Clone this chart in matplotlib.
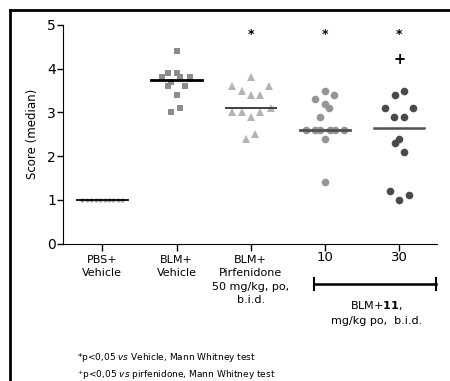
import matplotlib
matplotlib.use("Agg")
import matplotlib.pyplot as plt
from matplotlib.lines import Line2D

# data
group_pos = [1, 2, 3, 4, 5]
tick_labels = ["PBS+\nVehicle", "BLM+\nVehicle", "BLM+\nPirfenidone\n50 mg/kg, po,\nb.i.d.", "10", "30"]

pbs_y = [1.0, 1.0, 1.0, 1.0, 1.0, 1.0, 1.0, 1.0, 1.0, 1.0]
pbs_dx = [-0.27, -0.21, -0.15, -0.09, -0.03, 0.03, 0.09, 0.15, 0.21, 0.27]

blm_y = [4.4, 3.9, 3.9, 3.8, 3.8, 3.8, 3.7, 3.6, 3.6, 3.4, 3.1, 3.0]
blm_dx = [0.0, -0.12, 0.0, -0.19, 0.05, 0.18, -0.07, -0.12, 0.12, 0.0, 0.05, -0.07]

pirf_y = [3.8, 3.6, 3.6, 3.5, 3.4, 3.4, 3.1, 3.0, 3.0, 3.0, 2.9, 2.4, 2.5]
pirf_dx = [0.0, -0.25, 0.25, -0.12, 0.0, 0.12, 0.27, -0.25, -0.12, 0.12, 0.0, -0.06, 0.06]

c10_y = [3.5, 3.4, 3.3, 3.2, 3.1, 2.9, 2.6, 2.6, 2.6, 2.6, 2.6, 2.6, 2.4, 1.4]
c10_dx = [0.0, 0.12, -0.13, 0.0, 0.06, -0.07, -0.26, -0.14, -0.07, 0.07, 0.14, 0.25, 0.0, 0.0]

c30_y = [3.5, 3.4, 3.1, 3.1, 2.9, 2.9, 2.4, 2.3, 2.1, 1.2, 1.0, 1.1]
c30_dx = [0.07, -0.06, -0.19, 0.19, -0.07, 0.06, 0.0, -0.06, 0.06, -0.13, 0.0, 0.13]

medians = [1.0, 3.75, 3.1, 2.6, 2.65]
star_groups = [3, 4, 5]
plus_groups = [5]

fig = plt.figure(figsize=(4.5, 3.81), dpi=100)
ax = fig.add_axes([63 / 450, 1 - 243.5 / 381, 374 / 450, 218.5 / 381])

def scatter_group(x0, ys, dxs, marker, color, ms):
    xs = [x0 + d for d in dxs]
    ax.plot(xs, ys, linestyle="none", marker=marker, color=color,
            markersize=ms, markeredgewidth=0, zorder=2)

scatter_group(1, pbs_y, pbs_dx, "o", "#a0a0a0", 3)
scatter_group(2, blm_y, blm_dx, "s", "#8c8c8c", 5)
scatter_group(3, pirf_y, pirf_dx, "^", "#b4b4b4", 5.5)
scatter_group(4, c10_y, c10_dx, "o", "#959595", 5.5)
scatter_group(5, c30_y, c30_dx, "o", "#4a4a4a", 5.5)

med_colors = ["#000000", "#000000", "#404040", "#505050", "#505050"]
med_widths = [1.3, 2.0, 1.4, 2.0, 1.8]
for x0, m, c, w in zip(group_pos, medians, med_colors, med_widths):
    ax.plot([x0 - 0.34, x0 + 0.34], [m, m], color=c, linewidth=w, zorder=3)

for g in star_groups:
    ax.text(g, 4.78, "*", ha="center", va="center", fontsize=9, fontweight="bold")
for g in plus_groups:
    ax.text(g, 4.22, "+", ha="center", va="center", fontsize=10.5, fontweight="bold")

ax.set_xlim(0.47, 5.51)
ax.set_ylim(0, 5)
ax.set_yticks([0, 1, 2, 3, 4, 5])
ax.tick_params(axis="y", labelsize=10, length=4, width=1, pad=1)
ax.set_xticks(group_pos, tick_labels, fontsize=8, linespacing=1.45)
ax.tick_params(axis="x", length=5, width=1, pad=3)
for lab in ax.get_xticklabels()[3:]:
    lab.set_fontsize(9.5)
    lab.set_y(0.015)
ax.spines["top"].set_visible(False)
ax.spines["right"].set_visible(False)
ax.set_ylabel("Score (median)", fontsize=8.5, labelpad=6)

# bracket for compound 11 doses
ax.plot([3.85, 5.5], [-0.93, -0.93], color="black", linewidth=1.8, clip_on=False)
ax.plot([3.85, 3.85], [-0.8, -1.06], color="black", linewidth=1.5, clip_on=False)
ax.plot([5.5, 5.5], [-0.8, -1.06], color="black", linewidth=1.5, clip_on=False)
ax.text(4.69, -1.41, r"BLM+$\mathbf{11}$,", ha="center", va="center", fontsize=8)
ax.text(4.69, -1.78, "mg/kg po,  b.i.d.", ha="center", va="center", fontsize=8)

fig.text(77 / 450, 1 - 358 / 381, r"*p<0,05 $\it{vs}$ Vehicle, Mann Whitney test",
         fontsize=6.5, va="center")
fig.text(77 / 450, 1 - 375 / 381, r"$^{+}$p<0,05 $\it{vs}$ pirfenidone, Mann Whitney test",
         fontsize=6.5, va="center")

# outer frame
fig.add_artist(Line2D([10 / 450, 10 / 450], [0, 1 - 10 / 381], color="black", linewidth=2))
fig.add_artist(Line2D([10 / 450, 1], [1 - 10 / 381, 1 - 10 / 381], color="black", linewidth=2))

fig.savefig("out.png", dpi=100)
